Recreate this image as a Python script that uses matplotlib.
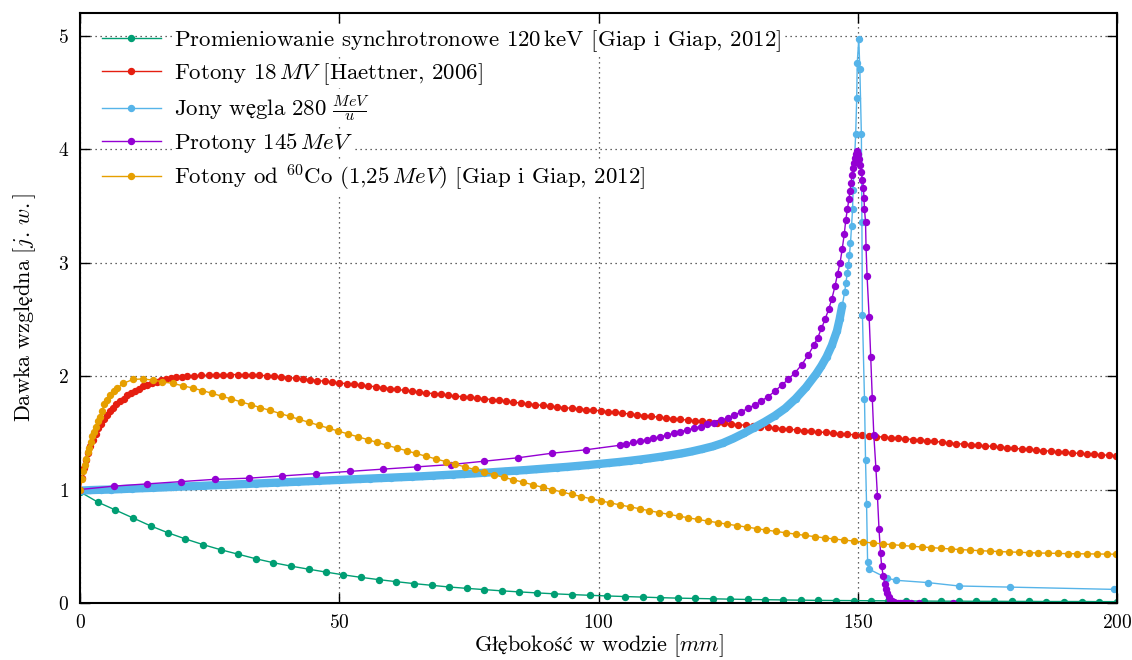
import matplotlib
matplotlib.use("Agg")
import matplotlib.pyplot as plt

# ---- dane (głębokość w mm, dawka względna) ----

# promieniowanie synchrotronowe 120 keV
synch_x = [0.0, 3.4, 6.8, 10.2, 13.6, 16.9, 20.3, 23.7, 27.1, 30.5, 33.9, 37.3, 40.7, 44.1,
           47.5, 50.8, 54.2, 57.6, 61.0, 64.4, 67.8, 71.2, 74.6, 78.0, 81.4, 84.7, 88.1, 91.5,
           94.9, 98.3, 101.7, 105.1, 108.5, 111.9, 115.3, 118.6, 122.0, 125.4, 128.8, 132.2,
           135.6, 139.0, 142.4, 145.8, 149.2, 152.5, 155.9, 159.3, 162.7, 166.1, 169.5, 172.9,
           176.3, 179.7, 183.1, 186.4, 189.8, 193.2, 196.6, 200.0]
synch_y = [0.98, 0.89, 0.82, 0.75, 0.68, 0.62, 0.565, 0.515, 0.47, 0.43, 0.39, 0.355, 0.325,
           0.298, 0.272, 0.248, 0.226, 0.206, 0.188, 0.171, 0.156, 0.141, 0.129, 0.118, 0.107,
           0.098, 0.089, 0.081, 0.074, 0.068, 0.062, 0.057, 0.052, 0.047, 0.043, 0.040, 0.037,
           0.034, 0.031, 0.029, 0.027, 0.025, 0.023, 0.022, 0.021, 0.020, 0.019, 0.018, 0.017,
           0.016, 0.016, 0.015, 0.015, 0.014, 0.014, 0.013, 0.013, 0.013, 0.012, 0.012]

# fotony 18 MV
foton18_x = [0.0, 0.4, 0.8, 1.2, 1.6, 2.0, 2.5, 3.0, 3.5, 4.0, 4.6, 5.2, 5.8, 6.4, 7.0, 7.7,
             8.4, 9.1, 9.8, 10.6, 11.4, 12.2, 13.0, 13.9, 14.8, 15.7, 16.6, 17.6, 18.6, 19.6,
             20.6, 22.0, 23.4, 24.8, 26.2, 27.6, 29.0, 30.4, 31.8, 33.2, 34.6, 36.0, 37.4, 38.8,
             40.2, 41.6, 43.0, 44.4, 45.8, 47.2, 48.6, 50.0, 51.4, 52.8, 54.2, 55.6, 57.0, 58.4,
             59.8, 61.2, 62.6, 64.0, 65.4, 66.8, 68.2, 69.6, 71.0, 72.4, 73.8, 75.2, 76.6, 78.0,
             79.4, 80.8, 82.2, 83.6, 85.0, 86.4, 87.8, 89.2, 90.6, 92.0, 93.4, 94.8, 96.2, 97.6,
             99.0, 100.4, 101.8, 103.2, 104.6, 106.0, 107.4, 108.8, 110.2, 111.6, 113.0, 114.4,
             115.8, 117.2, 118.6, 120.0, 121.4, 122.8, 124.2, 125.6, 127.0, 128.4, 129.8, 131.2,
             132.6, 134.0, 135.4, 136.8, 138.2, 139.6, 141.0, 142.4, 143.8, 145.2, 146.6, 148.0,
             149.4, 150.8, 152.2, 153.6, 155.0, 156.4, 157.8, 159.2, 160.6, 162.0, 163.4, 164.8,
             166.2, 167.6, 169.0, 170.4, 171.8, 173.2, 174.6, 176.0, 177.4, 178.8, 180.2, 181.6,
             183.0, 184.4, 185.8, 187.2, 188.6, 190.0, 191.4, 192.8, 194.2, 195.6, 197.0, 198.4,
             199.8]
foton18_y = [1.00, 1.10, 1.19, 1.26, 1.32, 1.38, 1.44, 1.49, 1.54, 1.58, 1.62, 1.66, 1.69, 1.72,
             1.75, 1.78, 1.80, 1.83, 1.85, 1.87, 1.89, 1.91, 1.925, 1.94, 1.95, 1.965, 1.975,
             1.98, 1.99, 1.995, 2.0, 2.003, 2.006, 2.008, 2.01, 2.012, 2.013, 2.013, 2.012, 2.01,
             2.007, 2.003, 1.998, 1.993, 1.987, 1.981, 1.975, 1.968, 1.961, 1.954, 1.947, 1.94,
             1.933, 1.926, 1.92, 1.913, 1.906, 1.898, 1.89, 1.882, 1.874, 1.866, 1.859, 1.852,
             1.845, 1.838, 1.831, 1.824, 1.818, 1.812, 1.806, 1.80, 1.793, 1.786, 1.778, 1.77,
             1.762, 1.755, 1.748, 1.741, 1.734, 1.728, 1.722, 1.716, 1.71, 1.705, 1.70, 1.694,
             1.687, 1.68, 1.673, 1.666, 1.659, 1.652, 1.645, 1.638, 1.631, 1.625, 1.618, 1.612,
             1.606, 1.60, 1.595, 1.59, 1.584, 1.578, 1.572, 1.566, 1.56, 1.555, 1.549, 1.543,
             1.537, 1.531, 1.526, 1.52, 1.514, 1.508, 1.503, 1.497, 1.492, 1.487, 1.482, 1.477,
             1.472, 1.467, 1.462, 1.457, 1.452, 1.447, 1.441, 1.436, 1.43, 1.424, 1.418, 1.411,
             1.405, 1.40, 1.395, 1.39, 1.385, 1.38, 1.374, 1.369, 1.363, 1.358, 1.353, 1.348,
             1.343, 1.338, 1.333, 1.328, 1.323, 1.318, 1.314, 1.31, 1.306, 1.302, 1.298]

# jony węgla 280 MeV/u
wegiel_x = [0, 2, 4, 6, 8, 10, 12, 14, 16, 18, 20, 22, 24, 26, 28, 30, 32, 34, 36, 38, 40, 42,
            44, 46, 48, 50, 52, 54, 56, 58, 60, 62, 64, 66, 68, 70, 72, 74, 76, 78, 80, 82, 84,
            86, 88, 90, 92, 94, 96, 98, 100, 102, 104, 106, 108, 110, 112, 114, 116, 118, 120,
            122, 124, 126, 128, 130, 132, 134, 136, 138, 140, 142, 143, 144, 145, 146, 146.5,
            147.0, 147.5, 147.7, 148.0, 148.2, 148.4, 148.6, 148.8, 149.0, 149.1, 149.6, 149.8,
            149.9, 150.2, 150.4, 150.7, 150.8, 150.9, 151.3, 151.5, 151.7, 151.9, 152.1, 155.6,
            157.4, 163.5, 169.5, 179.4, 199.4]
wegiel_y = [0.99, 0.995, 0.998, 1.0, 1.004, 1.008, 1.012, 1.015, 1.019, 1.023, 1.027, 1.03,
            1.034, 1.038, 1.041, 1.045, 1.049, 1.053, 1.057, 1.061, 1.065, 1.069, 1.073, 1.077,
            1.081, 1.085, 1.089, 1.093, 1.097, 1.101, 1.105, 1.109, 1.113, 1.117, 1.122, 1.127,
            1.132, 1.137, 1.142, 1.148, 1.154, 1.16, 1.166, 1.172, 1.179, 1.186, 1.193, 1.20,
            1.208, 1.216, 1.225, 1.234, 1.243, 1.253, 1.264, 1.276, 1.289, 1.303, 1.318, 1.336,
            1.357, 1.38, 1.41, 1.45, 1.495, 1.545, 1.595, 1.65, 1.715, 1.80, 1.90, 2.02, 2.09,
            2.17, 2.27, 2.40, 2.50, 2.62, 2.745, 2.82, 2.91, 2.98, 3.07, 3.17, 3.32, 3.47, 3.64,
            4.13, 4.45, 4.76, 4.97, 4.71, 4.13, 3.36, 2.54, 1.80, 1.26, 0.87, 0.36, 0.30, 0.22,
            0.20, 0.18, 0.15, 0.14, 0.12]
n_pasmo = 78  # gęsto próbkowany odcinek przed pikiem (do x = 147.5)

# protony 145 MeV
proton_x = [0.0, 6.5, 13.0, 19.5, 26.0, 32.5, 39.0, 45.5, 52.0, 58.5, 65.0, 71.5, 78.0, 84.5,
            91.0, 97.5, 104.1, 105.4, 106.7, 108.0, 109.3, 110.6, 111.9, 113.2, 114.5, 115.8,
            117.1, 118.4, 119.7, 121.0, 122.3, 123.6, 124.9, 126.2, 127.5, 128.8, 130.1, 131.4,
            132.7, 134.0, 135.3, 136.6, 137.9, 139.2, 140.5, 141.5, 142.3, 143.0, 143.7, 144.4,
            145.0, 145.6, 146.1, 146.6, 147.0, 147.4, 147.7, 148.0, 148.3, 148.5, 148.7, 148.9,
            149.1, 149.3, 149.5, 149.7, 149.9, 150.1, 150.3, 150.5, 150.7, 150.9, 151.1, 151.2,
            151.3, 151.5, 151.6, 151.8, 152.2, 152.5, 152.8, 153.1, 153.5, 153.8, 154.1, 154.4,
            154.6, 154.9, 155.2, 155.4, 155.6, 156.0, 156.3, 156.6, 157.0, 157.4, 157.8, 158.2,
            158.6, 159.1, 159.6, 160.2, 161.9, 168.3]
proton_y = [1.0, 1.03, 1.05, 1.07, 1.09, 1.10, 1.12, 1.14, 1.16, 1.18, 1.20, 1.22, 1.25, 1.28,
            1.32, 1.35, 1.39, 1.405, 1.415, 1.425, 1.44, 1.45, 1.465, 1.48, 1.495, 1.51, 1.525,
            1.54, 1.555, 1.575, 1.59, 1.61, 1.63, 1.655, 1.685, 1.715, 1.745, 1.78, 1.82, 1.865,
            1.92, 1.97, 2.03, 2.10, 2.19, 2.27, 2.34, 2.42, 2.50, 2.59, 2.68, 2.79, 2.90, 3.00,
            3.12, 3.25, 3.38, 3.47, 3.56, 3.63, 3.70, 3.77, 3.83, 3.88, 3.92, 3.96, 3.98, 3.96,
            3.91, 3.86, 3.80, 3.73, 3.66, 3.57, 3.47, 3.36, 3.14, 2.88, 2.52, 2.17, 1.81, 1.48,
            1.19, 0.94, 0.65, 0.44, 0.33, 0.24, 0.17, 0.12, 0.085, 0.05, 0.03, 0.018, 0.008,
            0.004, 0.002, 0.001, 0.0, 0.0, 0.0, 0.0, 0.0, 0.0]

# fotony od Co-60 (1,25 MeV)
kobalt_x = [0.0, 0.3, 0.6, 0.9, 1.2, 1.5, 1.8, 2.1, 2.4, 2.7, 3.0, 3.4, 3.8, 4.2, 4.7, 5.2, 5.8,
            6.5, 7.2, 8.3, 10.2, 12.1, 14.0, 15.9, 17.9, 19.8, 21.7, 23.6, 25.5, 27.3, 29.2,
            31.1, 33.0, 34.8, 36.7, 38.6, 40.5, 42.3, 44.2, 46.1, 48.0, 49.8, 51.7, 53.6, 55.5,
            57.3, 59.2, 61.1, 63.0, 64.8, 66.7, 68.6, 70.5, 72.3, 74.2, 76.1, 78.0, 79.8, 81.7,
            83.6, 85.5, 87.3, 89.2, 91.1, 93.0, 94.8, 96.7, 98.6, 100.5, 102.3, 104.2, 106.1,
            108.0, 109.8, 111.7, 113.6, 115.5, 117.3, 119.2, 121.1, 123.0, 124.8, 126.7, 128.6,
            130.5, 132.3, 134.2, 136.1, 138.0, 139.8, 141.7, 143.6, 145.5, 147.3, 149.2, 151.1,
            153.0, 154.8, 156.7, 158.6, 160.5, 162.3, 164.2, 166.1, 168.0, 169.8, 171.7, 173.6,
            175.5, 177.3, 179.2, 181.1, 183.0, 184.8, 186.7, 188.6, 190.5, 192.3, 194.2, 196.1,
            198.0, 199.8]
kobalt_y = [1.00, 1.09, 1.16, 1.22, 1.27, 1.33, 1.37, 1.42, 1.47, 1.51, 1.55, 1.60, 1.64, 1.69,
            1.75, 1.79, 1.83, 1.865, 1.895, 1.935, 1.97, 1.975, 1.965, 1.95, 1.935, 1.915, 1.895,
            1.872, 1.848, 1.823, 1.798, 1.772, 1.747, 1.722, 1.697, 1.67, 1.644, 1.618, 1.592,
            1.566, 1.54, 1.515, 1.49, 1.465, 1.44, 1.415, 1.39, 1.366, 1.342, 1.318, 1.294, 1.27,
            1.247, 1.224, 1.20, 1.177, 1.153, 1.13, 1.108, 1.086, 1.064, 1.042, 1.02, 0.999,
            0.978, 0.958, 0.938, 0.918, 0.90, 0.882, 0.864, 0.847, 0.83, 0.813, 0.797, 0.781,
            0.766, 0.751, 0.736, 0.722, 0.708, 0.695, 0.682, 0.669, 0.656, 0.643, 0.631, 0.619,
            0.607, 0.596, 0.585, 0.574, 0.564, 0.555, 0.546, 0.537, 0.529, 0.521, 0.514, 0.507,
            0.50, 0.494, 0.488, 0.482, 0.476, 0.471, 0.466, 0.461, 0.457, 0.453, 0.45, 0.447,
            0.444, 0.441, 0.439, 0.437, 0.435, 0.434, 0.433, 0.432, 0.431, 0.43]

# polskie znaki przez mathtext (cmr10 ich nie ma, brakujące glify biorą się z STIX)
etykiety = [
    r"Promieniowanie synchrotronowe 120$\,$keV [Giap i Giap, 2012]",
    r"Fotony 18$\,MV$ [Haettner, 2006]",
    r"$\mathrm{Jony\ węgla\ 280}\ \frac{MeV}{u}$",
    r"Protony 145$\,MeV$",
    r"Fotony od $^{60}$Co (1,25$\,MeV$) [Giap i Giap, 2012]",
]
kolory = ["#009e73", "#e51e10", "#56b4e9", "#9400d3", "#e69f00"]
opis_x = r"$\mathrm{Głębokość\ w\ wodzie\ [}mm\mathrm{]}$"
opis_y = r"$\mathrm{Dawka\ względna\ [}j.\,w.\mathrm{]}$"

plt.rcParams["font.family"] = ["cmr10", "DejaVu Serif"]
plt.rcParams["mathtext.fontset"] = "cm"
plt.rcParams["axes.formatter.use_mathtext"] = True
plt.rcParams["axes.unicode_minus"] = False

fig = plt.figure(figsize=(11.32, 6.6), dpi=100)
ax = fig.add_axes([80 / 1132, 1 - 603 / 660, 1037 / 1132, 590 / 660])

styl = dict(lw=1.0, marker="o", ms=4.3)
ax.plot(synch_x, synch_y, color=kolory[0], label=etykiety[0], **styl)
ax.plot(foton18_x, foton18_y, color=kolory[1], label=etykiety[1], **styl)
ax.plot(wegiel_x[:n_pasmo], wegiel_y[:n_pasmo], color=kolory[2], lw=6.0,
        solid_capstyle="round")
ax.plot(wegiel_x, wegiel_y, color=kolory[2], label=etykiety[2], **styl)
ax.plot(proton_x, proton_y, color=kolory[3], label=etykiety[3], **styl)
ax.plot(kobalt_x, kobalt_y, color=kolory[4], label=etykiety[4], **styl)

ax.set_xlim(0, 200)
ax.set_ylim(0, 5.2)
ax.set_xticks([0, 50, 100, 150, 200])
ax.set_yticks([0, 1, 2, 3, 4, 5])
ax.tick_params(direction="in", length=7, width=1.0, top=True, right=True,
               labelsize=14, pad=8, colors="black")
ax.grid(True, color="black", linestyle=(0, (1, 3)), linewidth=0.9, alpha=0.8)
for s in ax.spines.values():
    s.set_linewidth(1.5)

ax.set_xlabel(opis_x, fontsize=16, labelpad=0)
ax.set_ylabel(opis_y, fontsize=16, labelpad=14)

leg = ax.legend(loc="upper left", frameon=False, fontsize=16.5, numpoints=1,
                handlelength=2.6, handletextpad=0.55, labelspacing=0.31,
                borderaxespad=0.0, bbox_to_anchor=(0.012, 0.99))
# tło pod tekstem legendy zasłania siatkę, jak w gnuplocie
for t in leg.get_texts():
    t.set_bbox(dict(facecolor="white", edgecolor="none", pad=1.0))

fig.savefig("out.png", dpi=100)
